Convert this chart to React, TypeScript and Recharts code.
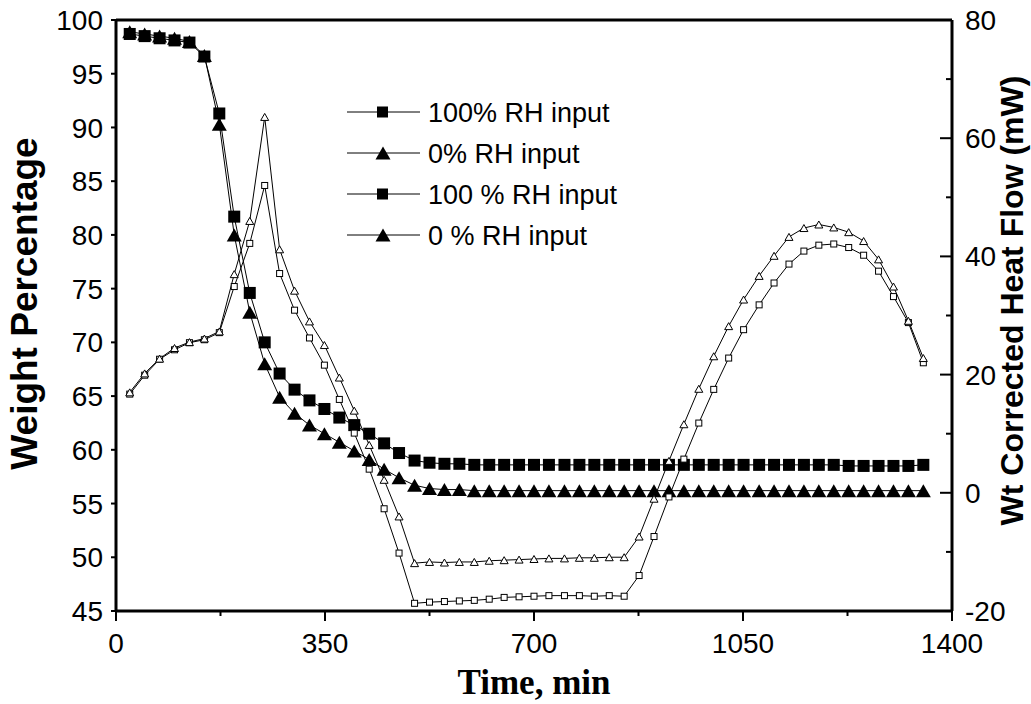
import React from 'react'
import { ComposedChart, Line, XAxis, YAxis, Legend, ReferenceLine } from 'recharts'

// sampling times (min)
const time = [
  23, 48, 73, 98, 123, 148, 173, 198, 224, 249, 274, 299, 324, 349, 374, 399, 424, 449,
  474, 500, 525, 550, 575, 600, 625, 650, 675, 700, 725, 751, 776, 801, 826, 851, 876, 901,
  926, 951, 976, 1001, 1026, 1051, 1077, 1102, 1127, 1152, 1177, 1202, 1227, 1252, 1277,
  1302, 1327, 1352,
]

// weight %, left axis
const weight100 = [
  98.7, 98.5, 98.3, 98.1, 97.9, 96.6, 91.3, 81.7, 74.6, 70.0, 67.1, 65.6, 64.6, 63.8, 63.0,
  62.3, 61.5, 60.6, 59.7, 59.0, 58.8, 58.7, 58.7, 58.6, 58.6, 58.6, 58.6, 58.6, 58.6, 58.6,
  58.6, 58.6, 58.6, 58.6, 58.6, 58.6, 58.6, 58.6, 58.6, 58.6, 58.6, 58.6, 58.6, 58.6, 58.6,
  58.6, 58.6, 58.6, 58.5, 58.5, 58.5, 58.5, 58.5, 58.6,
]
const weight0 = [
  98.9, 98.7, 98.5, 98.3, 98.0, 96.7, 90.3, 80.0, 72.8, 68.0, 64.9, 63.4, 62.3, 61.5, 60.7,
  59.9, 59.1, 58.2, 57.4, 56.7, 56.4, 56.3, 56.3, 56.2, 56.2, 56.2, 56.2, 56.2, 56.2, 56.2,
  56.2, 56.2, 56.2, 56.2, 56.2, 56.2, 56.2, 56.2, 56.2, 56.2, 56.2, 56.2, 56.2, 56.2, 56.2,
  56.2, 56.2, 56.2, 56.2, 56.2, 56.2, 56.2, 56.2, 56.2,
]

// heat flow (mW), right axis
const heat100 = [
  16.7, 19.9, 22.6, 24.2, 25.4, 25.9, 27.1, 34.9, 42.2, 52.0, 37.1, 30.9, 26.2, 21.6, 15.8,
  10.1, 4.0, -2.7, -10.2, -18.7, -18.5, -18.4, -18.3, -18.2, -18.0, -17.7, -17.6, -17.5,
  -17.4, -17.4, -17.4, -17.5, -17.4, -17.5, -14.0, -7.4, -0.7, 5.7, 11.8, 17.5, 22.8, 27.6,
  31.8, 35.5, 38.7, 40.9, 41.9, 42.1, 41.5, 40.2, 37.5, 33.2, 28.8, 22.0,
]
const heat0 = [
  17.0, 20.2, 22.7, 24.5, 25.5, 26.1, 27.3, 37.0, 46.0, 63.6, 41.2, 34.2, 29.0, 25.0, 19.5,
  13.9, 8.1, 2.2, -4.0, -11.9, -11.7, -11.8, -11.7, -11.7, -11.5, -11.4, -11.3, -11.2,
  -11.1, -11.1, -11.0, -11.0, -10.9, -10.9, -7.4, -1.0, 5.4, 11.6, 17.6, 23.1, 28.2, 32.7,
  36.7, 40.1, 43.3, 44.8, 45.4, 44.9, 44.1, 42.6, 39.5, 34.9, 29.1, 22.8,
]

const xTicks = [0, 175, 350, 525, 700, 875, 1050, 1225, 1400]
const leftTicks = [45, 50, 55, 60, 65, 70, 75, 80, 85, 90, 95, 100]
const rightTicks = [-20, -10, 0, 10, 20, 30, 40, 50, 60, 70, 80]

const legendItems = [
  { label: '100% RH input', shape: 'square' },
  { label: '0% RH input', shape: 'triangle' },
  { label: '100 % RH input', shape: 'square' },
  { label: '0 % RH input', shape: 'triangle' },
]

const data = time.map((t, i) => ({
  t,
  w100: weight100[i],
  w0: weight0[i],
  h100: heat100[i],
  h0: heat0[i],
}))

const SANS = "Arial, 'Liberation Sans', sans-serif"
const SERIF = "'Times New Roman', 'Liberation Serif', serif"

function triPath(cx: number, cy: number, w: number, h: number) {
  return `${cx},${cy - h / 2} ${cx + w / 2},${cy + h / 2} ${cx - w / 2},${cy + h / 2}`
}

const filledSquare = (p: any) => (
  <rect key={p.index} x={p.cx - 6} y={p.cy - 6} width={12} height={12} fill="#000" />
)
const filledTriangle = (p: any) => (
  <polygon key={p.index} points={triPath(p.cx, p.cy, 15, 13)} fill="#000" />
)
const openSquare = (p: any) => (
  <rect key={p.index} x={p.cx - 3} y={p.cy - 3} width={6} height={6} fill="#fff" stroke="#000" strokeWidth={1} />
)
const openTriangle = (p: any) => (
  <polygon key={p.index} points={triPath(p.cx, p.cy, 8, 7)} fill="#fff" stroke="#000" strokeWidth={1} />
)

function XTick({ x, y, payload }: any) {
  const major = payload.value % 350 === 0
  return (
    <g>
      <line x1={x} x2={x} y1={y} y2={y + (major ? 10 : 5)} stroke="#000" strokeWidth={2} />
      {major && (
        <text x={x} y={y + 42} textAnchor="middle" fontSize={28} fontFamily={SANS} fill="#000">
          {payload.value}
        </text>
      )}
    </g>
  )
}

function LeftTick({ x, y, payload }: any) {
  return (
    <g>
      <line x1={x - 5} x2={x} y1={y} y2={y} stroke="#000" strokeWidth={2} />
      <text x={x - 13} y={y} dy="0.36em" textAnchor="end" fontSize={28} fontFamily={SANS} fill="#000">
        {payload.value}
      </text>
    </g>
  )
}

function RightTick({ x, y, payload }: any) {
  const major = payload.value % 20 === 0
  return (
    <g>
      <line x1={x - (major ? 12 : 6)} x2={x} y1={y} y2={y} stroke="#000" strokeWidth={2} />
      {major && (
        <text x={x + 13} y={y} dy="0.36em" textAnchor="start" fontSize={28} fontFamily={SANS} fill="#000">
          {payload.value}
        </text>
      )}
    </g>
  )
}

function LegendBox() {
  return (
    <svg width={320} height={170}>
      {legendItems.map((item, i) => {
        const cy = 22 + i * 41
        return (
          <g key={item.label}>
            <line x1={7} x2={80} y1={cy} y2={cy} stroke="#000" strokeWidth={1} />
            {item.shape === 'square' ? (
              <rect x={37} y={cy - 5.5} width={11} height={11} fill="#000" />
            ) : (
              <polygon points={triPath(43, cy, 15, 13)} fill="#000" />
            )}
            <text x={88} y={cy} dy="0.36em" fontSize={27} fontFamily={SANS} fill="#000">
              {item.label}
            </text>
          </g>
        )
      })}
    </svg>
  )
}

export default function App() {
  return (
    <div style={{ position: 'absolute', left: 0, top: 0, background: '#fff' }}>
      <ComposedChart
        width={1031}
        height={704}
        data={data}
        margin={{ top: 20, right: 0, bottom: 0, left: 0 }}
        style={{ fontFamily: SANS }}
      >
        <XAxis
          dataKey="t"
          type="number"
          domain={[0, 1400]}
          ticks={xTicks}
          interval={0}
          tickSize={0}
          tickMargin={0}
          tickLine={false}
          tick={<XTick />}
          axisLine={{ stroke: '#000', strokeWidth: 3 }}
          height={93}
          label={{
            content: ({ viewBox }: any) => (
              <text
                x={viewBox.x + viewBox.width / 2}
                y={viewBox.y + 83}
                textAnchor="middle"
                fontSize={35}
                fontWeight="bold"
                fontFamily={SERIF}
                fill="#000"
              >
                Time, min
              </text>
            ),
          }}
        />
        <YAxis
          yAxisId="left"
          domain={[45, 100]}
          ticks={leftTicks}
          interval={0}
          tickSize={0}
          tickMargin={0}
          tickLine={false}
          tick={<LeftTick />}
          axisLine={{ stroke: '#000', strokeWidth: 3 }}
          width={116}
          allowDataOverflow
          label={{
            content: ({ viewBox }: any) => {
              const cx = viewBox.x + 24
              const cy = viewBox.y + viewBox.height / 2 - 12
              return (
                <text
                  x={cx}
                  y={cy}
                  dy="0.36em"
                  transform={`rotate(-90, ${cx}, ${cy})`}
                  textAnchor="middle"
                  fontSize={37}
                  fontWeight="bold"
                  fontFamily={SANS}
                  fill="#000"
                >
                  Weight Percentage
                </text>
              )
            },
          }}
        />
        <YAxis
          yAxisId="right"
          orientation="right"
          domain={[-20, 80]}
          ticks={rightTicks}
          interval={0}
          tickSize={0}
          tickMargin={0}
          tickLine={false}
          tick={<RightTick />}
          axisLine={{ stroke: '#000', strokeWidth: 3 }}
          width={79}
          allowDataOverflow
          label={{
            content: ({ viewBox }: any) => {
              const cx = viewBox.x + 59
              const cy = viewBox.y + viewBox.height / 2 - 15
              return (
                <text
                  x={cx}
                  y={cy}
                  dy="0.36em"
                  transform={`rotate(-90, ${cx}, ${cy})`}
                  textAnchor="middle"
                  fontSize={32}
                  fontWeight="bold"
                  fontFamily={SANS}
                  fill="#000"
                >
                  Wt Corrected Heat Flow (mW)
                </text>
              )
            },
          }}
        />
        <ReferenceLine y={100} yAxisId="left" stroke="#000" strokeWidth={3} />
        <Legend
          layout="vertical"
          align="center"
          verticalAlign="middle"
          content={() => <LegendBox />}
          wrapperStyle={{ left: 340, top: 90, width: 320, height: 170 }}
        />
        <Line
          yAxisId="left"
          type="linear"
          dataKey="w100"
          stroke="#000"
          strokeWidth={1}
          dot={filledSquare}
          activeDot={false}
          isAnimationActive={false}
        />
        <Line
          yAxisId="left"
          type="linear"
          dataKey="w0"
          stroke="#000"
          strokeWidth={1}
          dot={filledTriangle}
          activeDot={false}
          isAnimationActive={false}
        />
        <Line
          yAxisId="right"
          type="linear"
          dataKey="h100"
          stroke="#000"
          strokeWidth={1}
          dot={openSquare}
          activeDot={false}
          isAnimationActive={false}
        />
        <Line
          yAxisId="right"
          type="linear"
          dataKey="h0"
          stroke="#000"
          strokeWidth={1}
          dot={openTriangle}
          activeDot={false}
          isAnimationActive={false}
        />
      </ComposedChart>
    </div>
  )
}
